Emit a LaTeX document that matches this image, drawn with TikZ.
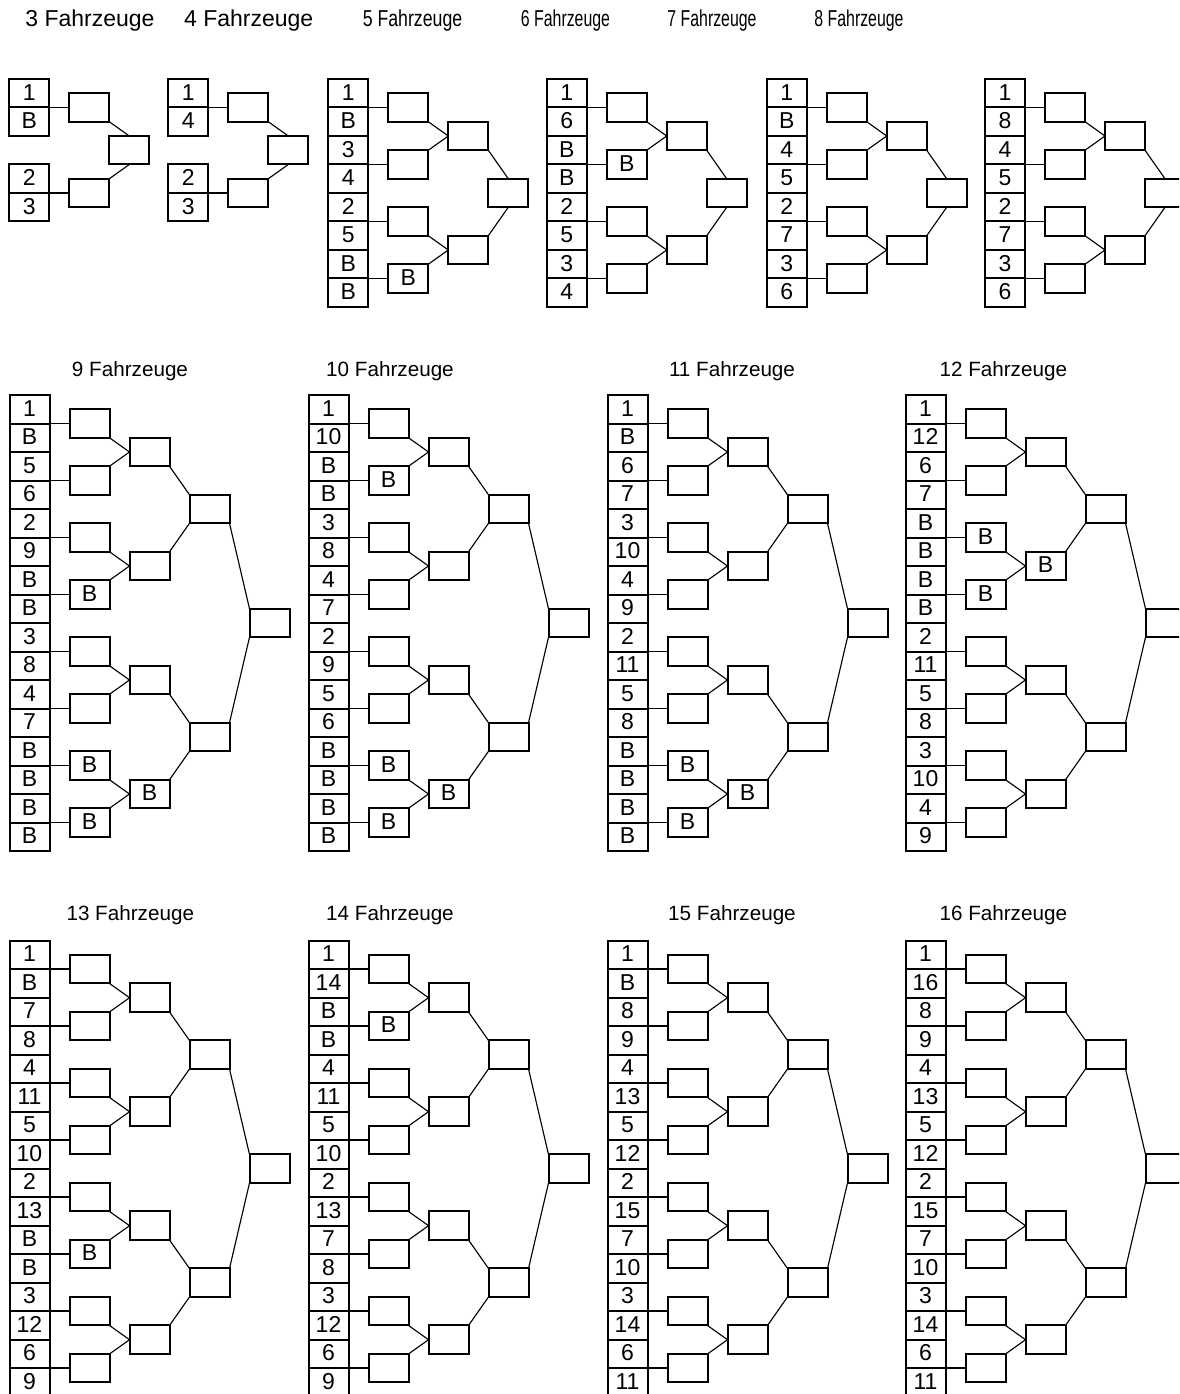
\documentclass[tikz,border=0pt]{standalone}
\usepackage{fontspec}
\usepackage{graphicx}
\setmainfont{Liberation Sans}
\newcommand{\cellfont}{\fontsize{17.25}{20}\selectfont}
\newcommand{\titlefontA}{\fontsize{17.25}{20}\selectfont}
\newcommand{\titlefontB}{\fontsize{15.5}{18}\selectfont}
\tikzset{
  cellbox/.style={draw, line width=1.5pt, minimum width=30pt, minimum height=21.375pt,
    inner sep=0pt, outer sep=0pt, text height=12.4pt, text depth=2.25pt, font=\cellfont},
  matchbox/.style={cellbox},
  hconn/.style={line width=1.2pt},
  dconn/.style={line width=0.85pt},
  titleA/.style={anchor=base, inner sep=0pt, font=\titlefontA},
  titleB/.style={anchor=base, inner sep=0pt, font=\titlefontB},
}
% 4-slot bracket: #1 name, #2 x0, #3 y0, #4 seeds (4)
\newcommand{\bracketfour}[4]{%
  \foreach \s [count=\i from 0] in {#4} {
    \pgfmathsetmacro\row{\i<2 ? \i : \i+1}
    \node[cellbox] (c#1-\i) at ({#2+20},{#3+(\row+0.5)*28.5}) {\s};
  }
  \node[matchbox] (a#1-0) at ({#2+80},{#3+28.5}) {};
  \node[matchbox] (a#1-1) at ({#2+80},{#3+4*28.5}) {};
  \draw[hconn] (c#1-0.south east) -- (a#1-0.west);
  \draw[hconn] (c#1-2.south east) -- (a#1-1.west);
  \node[matchbox] (f#1) at ({#2+120},{#3+2.5*28.5}) {};
  \draw[dconn] (a#1-0.south east) -- (f#1.north);
  \draw[dconn] (a#1-1.north east) -- (f#1.south);
}
% 8-slot bracket: #1 name, #2 x0, #3 y0, #4 seeds (8), #5 r1 labels (4)
\newcommand{\bracketeight}[5]{%
  \foreach \s [count=\i from 0] in {#4} {
    \node[cellbox] (c#1-\i) at ({#2+20},{#3+(\i+0.5)*28.5}) {\s};
  }
  \foreach \l [count=\k from 0] in {#5} {
    \pgfmathtruncatemacro\ci{2*\k}
    \node[matchbox] (a#1-\k) at ({#2+80},{#3+(2*\k+1)*28.5}) {\l};
    \draw[hconn] (c#1-\ci.south east) -- (a#1-\k.west);
  }
  \foreach \j in {0,1} {
    \pgfmathtruncatemacro\ka{2*\j}
    \pgfmathtruncatemacro\kb{2*\j+1}
    \node[matchbox] (b#1-\j) at ({#2+140},{#3+(4*\j+2)*28.5}) {};
    \draw[dconn] (a#1-\ka.south east) -- (b#1-\j.west);
    \draw[dconn] (a#1-\kb.north east) -- (b#1-\j.west);
  }
  \node[matchbox] (f#1) at ({#2+180},{#3+4*28.5}) {};
  \draw[dconn] (b#1-0.south east) -- (f#1.north);
  \draw[dconn] (b#1-1.north east) -- (f#1.south);
}
% 16-slot bracket: #1 name, #2 x0, #3 y0, #4 seeds (16), #5 r1 labels (8), #6 r2 labels (4)
\newcommand{\bracketsixteen}[6]{%
  \foreach \s [count=\i from 0] in {#4} {
    \node[cellbox] (c#1-\i) at ({#2+20},{#3+(\i+0.5)*28.5}) {\s};
  }
  \foreach \l [count=\k from 0] in {#5} {
    \pgfmathtruncatemacro\ci{2*\k}
    \node[matchbox] (a#1-\k) at ({#2+80},{#3+(2*\k+1)*28.5}) {\l};
    \draw[hconn] (c#1-\ci.south east) -- (a#1-\k.west);
  }
  \foreach \l [count=\j from 0] in {#6} {
    \pgfmathtruncatemacro\ka{2*\j}
    \pgfmathtruncatemacro\kb{2*\j+1}
    \node[matchbox] (b#1-\j) at ({#2+140},{#3+(4*\j+2)*28.5}) {\l};
    \draw[dconn] (a#1-\ka.south east) -- (b#1-\j.west);
    \draw[dconn] (a#1-\kb.north east) -- (b#1-\j.west);
  }
  \foreach \m in {0,1} {
    \pgfmathtruncatemacro\ja{2*\m}
    \pgfmathtruncatemacro\jb{2*\m+1}
    \node[matchbox] (d#1-\m) at ({#2+200},{#3+(8*\m+4)*28.5}) {};
    \draw[dconn] (b#1-\ja.south east) -- (d#1-\m.north west);
    \draw[dconn] (b#1-\jb.north east) -- (d#1-\m.south west);
  }
  \node[matchbox] (f#1) at ({#2+260},{#3+8*28.5}) {};
  \draw[dconn] (d#1-0.south east) -- (f#1.north west);
  \draw[dconn] (d#1-1.north east) -- (f#1.south west);
}
\begin{document}
\begin{tikzpicture}[x=0.75pt,y=-0.75pt]
\useasboundingbox (0,0) rectangle (1179,1394);
\clip (0,0) rectangle (1179,1394);
\fill[white] (0,0) rectangle (1179,1394);
% titles
\node[titleA] (t3) at (90,26.7) {3 Fahrzeuge};
\node[titleA] (t4) at (248.7,26.7) {4 Fahrzeuge};
\node[titleA] (t5) at (412.5,26.7) {\scalebox{0.77}[1]{5 Fahrzeuge}};
\node[titleA] (t6) at (565.5,26.7) {\scalebox{0.69}[1]{6 Fahrzeuge}};
\node[titleA] (t7) at (712,26.7) {\scalebox{0.69}[1]{7 Fahrzeuge}};
\node[titleA] (t8) at (859,26.7) {\scalebox{0.69}[1]{8 Fahrzeuge}};
\node[titleB] (t9) at (130,376.7) {9 Fahrzeuge};
\node[titleB] (t10) at (390,376.7) {10 Fahrzeuge};
\node[titleB] (t11) at (732,376.7) {11 Fahrzeuge};
\node[titleB] (t12) at (1003.3,376.7) {12 Fahrzeuge};
\node[titleB] (t13) at (130.3,920) {13 Fahrzeuge};
\node[titleB] (t14) at (390,920) {14 Fahrzeuge};
\node[titleB] (t15) at (732,920) {15 Fahrzeuge};
\node[titleB] (t16) at (1003.3,920) {16 Fahrzeuge};
% row 1
\bracketfour{3}{9.3}{79}{1,B,2,3}
\bracketfour{4}{168.3}{79}{1,4,2,3}
\bracketeight{5}{328.3}{79}{1,B,3,4,2,5,B,B}{{},{},{},B}
\bracketeight{6}{546.7}{79}{1,6,B,B,2,5,3,4}{{},B,{},{}}
\bracketeight{7}{766.7}{79}{1,B,4,5,2,7,3,6}{{},{},{},{}}
\bracketeight{8}{985}{79}{1,8,4,5,2,7,3,6}{{},{},{},{}}
% row 2
\bracketsixteen{9}{9.5}{395}{1,B,5,6,2,9,B,B,3,8,4,7,B,B,B,B}{{},{},{},B,{},{},B,B}{{},{},{},B}
\bracketsixteen{10}{308.5}{395}{1,10,B,B,3,8,4,7,2,9,5,6,B,B,B,B}{{},B,{},{},{},{},B,B}{{},{},{},B}
\bracketsixteen{11}{607.5}{395}{1,B,6,7,3,10,4,9,2,11,5,8,B,B,B,B}{{},{},{},{},{},{},B,B}{{},{},{},B}
\bracketsixteen{12}{905.5}{395}{1,12,6,7,B,B,B,B,2,11,5,8,3,10,4,9}{{},{},B,B,{},{},{},{}}{{},B,{},{}}
% row 3
\bracketsixteen{13}{9.5}{940.7}{1,B,7,8,4,11,5,10,2,13,B,B,3,12,6,9}{{},{},{},{},{},B,{},{}}{{},{},{},{}}
\bracketsixteen{14}{308.5}{940.7}{1,14,B,B,4,11,5,10,2,13,7,8,3,12,6,9}{{},B,{},{},{},{},{},{}}{{},{},{},{}}
\bracketsixteen{15}{607.5}{940.7}{1,B,8,9,4,13,5,12,2,15,7,10,3,14,6,11}{{},{},{},{},{},{},{},{}}{{},{},{},{}}
\bracketsixteen{16}{905.5}{940.7}{1,16,8,9,4,13,5,12,2,15,7,10,3,14,6,11}{{},{},{},{},{},{},{},{}}{{},{},{},{}}
\end{tikzpicture}
\end{document}
